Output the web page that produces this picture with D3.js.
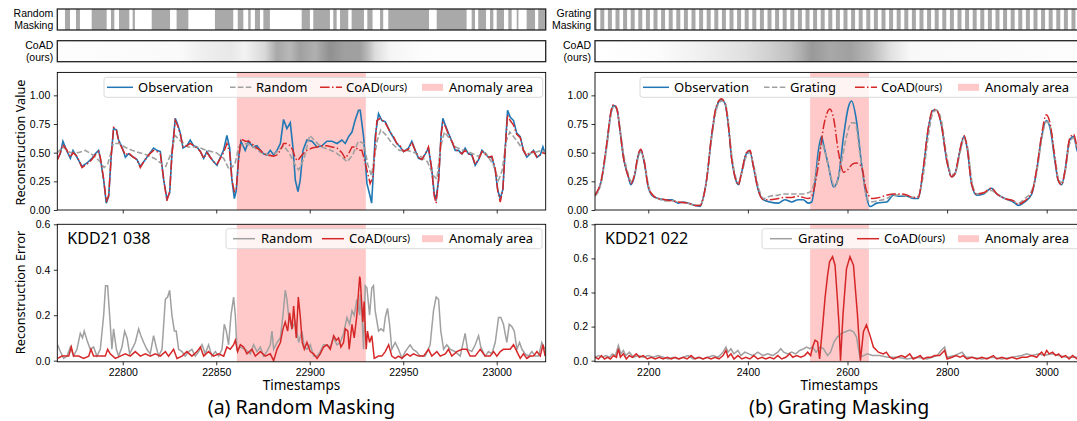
<!DOCTYPE html>
<html>
<head>
<meta charset="utf-8">
<script src="https://cdn.jsdelivr.net/npm/d3@7"></script>
<style>
  body { margin: 0; background: #fff; }
  svg { display: block; font-family: "Noto Sans", "Open Sans", sans-serif; }
</style>
</head>
<body>
<svg id="chart" width="1077" height="421"></svg>
<script>
// ---- data ----

// (a) KDD21 038, random masking
const randDomain = [22765, 23026.2];
const randTicks = [22800, 22850, 22900, 22950, 23000];
const randAnomaly = [22861, 22930];

// masked spans of the random mask
const randMask = [[22769.1, 22771.8], [22775.0, 22777.1], [22783.4, 22791.4], [22793.7, 22795.5],
  [22798.0, 22803.5], [22805.3, 22806.5], [22815.5, 22825.3], [22828.8, 22835.1], [22849.3, 22859.1],
  [22861.5, 22864.5], [22867.1, 22868.4], [22870.7, 22873.4], [22875.2, 22878.7], [22895.7, 22900.1],
  [22901.9, 22910.8], [22912.6, 22914.4], [22916.2, 22920.6], [22922.4, 22929.0], [22930.8, 22933.6],
  [22937.6, 22939.3], [22942.0, 22963.8], [22967.9, 22983.9], [22986.6, 22988.4], [22990.1, 22994.3],
  [22996.4, 22998.2], [23000.0, 23003.9], [23006.2, 23008.0], [23010.7, 23011.6], [23016.0, 23020.5],
  [23022.2, 23025.8]];

// CoAD attention shading (timestamp, grey level)
const randCoadShade = [[22765, 253], [22830.6, 250], [22841.3, 240], [22857.4, 232], [22865.4, 242],
  [22876.1, 216], [22882.5, 168], [22889.4, 184], [22894.8, 160], [22902.8, 176], [22910.8, 144],
  [22918.9, 160], [22926.9, 160], [22931.2, 188], [22934.9, 220], [22942.9, 245], [22959.0, 252], [23026.2, 253]];

const randObs = [[22765.2, 0.45], [22766.6, 0.49], [22768.0, 0.60], [22770.2, 0.51], [22772.0, 0.45],
  [22773.4, 0.52], [22775.5, 0.46], [22778.2, 0.38], [22780.9, 0.41], [22783.5, 0.45], [22785.3, 0.49],
  [22787.1, 0.52], [22788.0, 0.45], [22789.8, 0.26], [22791.2, 0.06], [22792.5, 0.12], [22793.9, 0.49],
  [22795.1, 0.71], [22796.6, 0.70], [22797.8, 0.61], [22799.6, 0.55], [22801.4, 0.46], [22803.1, 0.49],
  [22804.9, 0.47], [22807.6, 0.44], [22809.4, 0.38], [22811.2, 0.42], [22813.8, 0.48], [22816.5, 0.54],
  [22818.3, 0.52], [22820.1, 0.51], [22821.9, 0.26], [22823.6, 0.10], [22825.1, 0.15], [22826.3, 0.49],
  [22828.1, 0.80], [22829.5, 0.74], [22830.8, 0.67], [22832.2, 0.54], [22834.3, 0.56], [22836.1, 0.61],
  [22837.9, 0.56], [22839.7, 0.55], [22841.5, 0.51], [22843.3, 0.45], [22845.0, 0.51], [22846.8, 0.46],
  [22848.6, 0.42], [22850.4, 0.39], [22852.2, 0.46], [22853.9, 0.52], [22855.7, 0.65], [22857.2, 0.54],
  [22858.4, 0.26], [22859.7, 0.10], [22860.7, 0.17], [22862.0, 0.46], [22863.2, 0.60], [22865.5, 0.52],
  [22867.3, 0.60], [22869.6, 0.55], [22871.8, 0.56], [22873.6, 0.52], [22875.3, 0.49], [22877.1, 0.48],
  [22878.9, 0.52], [22880.7, 0.48], [22882.5, 0.52], [22884.3, 0.58], [22886.0, 0.79], [22887.8, 0.71],
  [22889.6, 0.76], [22891.0, 0.55], [22892.3, 0.26], [22893.7, 0.16], [22894.9, 0.26], [22896.4, 0.52],
  [22898.5, 0.61], [22901.2, 0.60], [22903.9, 0.55], [22906.5, 0.56], [22909.2, 0.60], [22911.9, 0.60],
  [22914.6, 0.58], [22917.2, 0.61], [22919.0, 0.58], [22920.8, 0.64], [22922.6, 0.68], [22924.4, 0.79],
  [22926.1, 0.87], [22927.0, 0.87], [22928.8, 0.64], [22930.6, 0.23], [22932.3, 0.12], [22933.1, 0.06],
  [22933.8, 0.26], [22935.0, 0.64], [22936.8, 0.84], [22938.6, 0.78], [22940.4, 0.77], [22943.0, 0.68],
  [22944.8, 0.63], [22946.6, 0.58], [22948.4, 0.55], [22950.2, 0.51], [22952.8, 0.54], [22954.6, 0.60],
  [22956.4, 0.52], [22958.2, 0.45], [22960.0, 0.44], [22961.8, 0.49], [22963.5, 0.54], [22965.3, 0.35],
  [22966.6, 0.14], [22967.6, 0.10], [22968.9, 0.26], [22970.3, 0.67], [22971.2, 0.80], [22972.5, 0.74],
  [22974.2, 0.67], [22976.0, 0.60], [22977.8, 0.52], [22979.6, 0.52], [22981.4, 0.49], [22983.1, 0.54],
  [22984.9, 0.49], [22986.7, 0.48], [22988.5, 0.39], [22990.3, 0.44], [22992.1, 0.52], [22993.8, 0.49],
  [22995.6, 0.46], [22997.4, 0.46], [22999.2, 0.35], [23000.6, 0.17], [23001.9, 0.10], [23003.3, 0.18],
  [23004.5, 0.52], [23005.8, 0.87], [23007.2, 0.81], [23009.0, 0.78], [23010.7, 0.67], [23012.6, 0.64],
  [23014.3, 0.52], [23016.1, 0.46], [23017.9, 0.49], [23019.7, 0.52], [23021.5, 0.46], [23023.3, 0.48],
  [23024.7, 0.55], [23025.9, 0.49]];

const randRecon = [[22765, 0.50], [22768, 0.55], [22772, 0.50], [22776, 0.50], [22780, 0.52], [22784, 0.48],
  [22788, 0.42], [22790, 0.37], [22792, 0.40], [22795, 0.58], [22798, 0.58], [22801, 0.55], [22805, 0.52],
  [22809, 0.50], [22813, 0.48], [22817, 0.45], [22821, 0.40], [22823, 0.38], [22826, 0.50], [22828, 0.65],
  [22831, 0.60], [22835, 0.55], [22840, 0.55], [22845, 0.52], [22850, 0.50], [22854, 0.45], [22857, 0.35],
  [22860, 0.40], [22862, 0.55], [22866, 0.58], [22870, 0.55], [22874, 0.50], [22878, 0.48], [22882, 0.50],
  [22886, 0.56], [22889, 0.50], [22892, 0.40], [22894, 0.35], [22897, 0.45], [22900, 0.65], [22903, 0.60],
  [22906, 0.55], [22910, 0.53], [22914, 0.50], [22918, 0.45], [22920, 0.42], [22923, 0.48], [22926, 0.60],
  [22929, 0.58], [22931, 0.40], [22933, 0.30], [22936, 0.60], [22938, 0.70], [22941, 0.65], [22944, 0.58],
  [22948, 0.52], [22952, 0.52], [22956, 0.50], [22960, 0.46], [22963, 0.42], [22966, 0.30], [22968, 0.27],
  [22970, 0.55], [22972, 0.68], [22975, 0.62], [22978, 0.55], [22982, 0.52], [22986, 0.50], [22990, 0.47],
  [22994, 0.50], [22998, 0.40], [23001, 0.26], [23003, 0.35], [23005, 0.60], [23007, 0.68], [23010, 0.62],
  [23013, 0.55], [23016, 0.49], [23020, 0.50], [23024, 0.52], [23026, 0.50]];

const randCoad = [[22765.2, 0.44], [22766.6, 0.50], [22768.0, 0.57], [22770.2, 0.52], [22772.0, 0.46],
  [22773.4, 0.50], [22775.5, 0.47], [22778.2, 0.37], [22780.9, 0.40], [22783.5, 0.44], [22785.3, 0.48],
  [22787.1, 0.51], [22788.0, 0.46], [22789.8, 0.27], [22791.2, 0.07], [22792.5, 0.13], [22793.9, 0.48],
  [22795.1, 0.72], [22796.6, 0.70], [22797.8, 0.60], [22799.6, 0.54], [22801.4, 0.48], [22803.1, 0.50],
  [22804.9, 0.47], [22807.6, 0.44], [22809.4, 0.37], [22811.2, 0.42], [22813.8, 0.48], [22816.5, 0.52],
  [22818.3, 0.51], [22820.1, 0.49], [22821.9, 0.27], [22823.6, 0.08], [22825.1, 0.16], [22826.3, 0.48],
  [22828.1, 0.78], [22829.5, 0.73], [22830.8, 0.66], [22832.2, 0.55], [22834.3, 0.56], [22836.1, 0.58],
  [22837.9, 0.56], [22839.7, 0.54], [22841.5, 0.51], [22843.3, 0.45], [22845.0, 0.50], [22846.8, 0.46],
  [22848.6, 0.42], [22850.4, 0.40], [22852.2, 0.45], [22853.9, 0.50], [22855.7, 0.58], [22857.2, 0.50],
  [22858.4, 0.26], [22859.7, 0.16], [22860.7, 0.18], [22862.0, 0.45], [22863.2, 0.62], [22865.5, 0.60],
  [22867.3, 0.60], [22869.6, 0.57], [22871.8, 0.54], [22873.6, 0.52], [22875.3, 0.49], [22877.1, 0.48],
  [22880.7, 0.47], [22882.5, 0.48], [22884.3, 0.52], [22886.0, 0.58], [22887.8, 0.58], [22889.6, 0.56],
  [22891.0, 0.52], [22892.3, 0.45], [22893.7, 0.43], [22894.9, 0.46], [22896.4, 0.49], [22898.5, 0.52],
  [22901.2, 0.54], [22903.9, 0.55], [22906.5, 0.56], [22909.2, 0.56], [22911.9, 0.55], [22914.6, 0.54],
  [22917.2, 0.50], [22919.0, 0.45], [22920.8, 0.49], [22922.6, 0.55], [22924.4, 0.55], [22926.1, 0.52],
  [22927.9, 0.52], [22929.7, 0.41], [22932.3, 0.23], [22933.8, 0.29], [22935.9, 0.78], [22937.7, 0.80],
  [22940.4, 0.76], [22943.0, 0.68], [22944.8, 0.64], [22946.6, 0.58], [22948.4, 0.56], [22950.2, 0.51],
  [22952.8, 0.53], [22954.6, 0.59], [22956.4, 0.52], [22958.2, 0.46], [22960.0, 0.44], [22961.8, 0.49],
  [22963.5, 0.55], [22965.3, 0.35], [22966.6, 0.12], [22967.6, 0.06], [22968.9, 0.26], [22970.3, 0.66],
  [22971.2, 0.76], [22972.5, 0.73], [22974.2, 0.66], [22976.0, 0.60], [22977.8, 0.53], [22979.6, 0.51],
  [22981.4, 0.49], [22983.1, 0.52], [22984.9, 0.49], [22986.7, 0.48], [22988.5, 0.40], [22990.3, 0.44],
  [22992.1, 0.51], [22993.8, 0.49], [22995.6, 0.46], [22997.4, 0.47], [22999.2, 0.36], [23000.6, 0.16],
  [23001.9, 0.07], [23003.3, 0.18], [23004.5, 0.52], [23005.8, 0.83], [23007.2, 0.78], [23009.0, 0.74],
  [23010.7, 0.66], [23012.6, 0.63], [23014.3, 0.52], [23016.1, 0.47], [23017.9, 0.50], [23019.7, 0.51],
  [23021.5, 0.46], [23023.3, 0.48], [23024.7, 0.50], [23025.9, 0.49]];

const randErrBase = [[22765.2, 0.07], [22766.6, 0.04], [22768.4, 0.01], [22770.2, 0.02], [22772.0, 0.06],
  [22773.7, 0.02], [22775.5, 0.05], [22777.3, 0.12], [22778.5, 0.10], [22779.4, 0.13], [22780.9, 0.09],
  [22782.6, 0.05], [22784.4, 0.06], [22786.2, 0.02], [22788.0, 0.05], [22789.8, 0.20], [22790.8, 0.33],
  [22791.9, 0.33], [22793.0, 0.20], [22794.2, 0.05], [22795.1, 0.14], [22796.6, 0.05], [22797.8, 0.02],
  [22799.6, 0.06], [22801.0, 0.13], [22802.3, 0.10], [22803.7, 0.03], [22804.9, 0.05], [22806.7, 0.08],
  [22808.5, 0.14], [22809.7, 0.11], [22811.2, 0.08], [22812.9, 0.05], [22814.7, 0.03], [22816.5, 0.11],
  [22817.9, 0.06], [22819.2, 0.02], [22821.0, 0.05], [22822.8, 0.27], [22824.0, 0.28], [22825.1, 0.31],
  [22826.3, 0.20], [22827.6, 0.13], [22828.6, 0.13], [22829.9, 0.05], [22831.7, 0.04], [22833.4, 0.02],
  [22835.2, 0.04], [22837.0, 0.05], [22838.8, 0.02], [22840.6, 0.04], [22842.4, 0.07], [22844.1, 0.03],
  [22845.9, 0.07], [22847.7, 0.02], [22849.5, 0.04], [22851.3, 0.02], [22853.1, 0.05], [22854.3, 0.16],
  [22855.4, 0.13], [22856.6, 0.07], [22857.9, 0.20], [22859.3, 0.28], [22860.2, 0.20], [22861.1, 0.05],
  [22862.9, 0.06], [22865.5, 0.05], [22868.2, 0.03], [22870.0, 0.07], [22871.8, 0.04], [22873.6, 0.06],
  [22875.3, 0.02], [22877.1, 0.04], [22878.9, 0.07], [22879.8, 0.13], [22880.7, 0.05], [22882.5, 0.08],
  [22884.3, 0.10], [22885.7, 0.20], [22886.9, 0.31], [22887.8, 0.27], [22888.7, 0.20], [22890.5, 0.14],
  [22892.3, 0.17], [22894.1, 0.08], [22895.8, 0.13], [22897.1, 0.06], [22898.5, 0.05], [22900.3, 0.07],
  [22902.1, 0.02], [22903.9, 0.02], [22905.6, 0.04], [22907.4, 0.07], [22909.2, 0.07], [22911.0, 0.06],
  [22912.8, 0.10], [22914.6, 0.07], [22916.3, 0.08], [22918.1, 0.12], [22919.9, 0.19], [22921.3, 0.16],
  [22922.6, 0.22], [22923.8, 0.20], [22925.2, 0.27], [22926.7, 0.20], [22927.0, 0.29], [22927.9, 0.20],
  [22928.8, 0.05], [22929.7, 0.33], [22930.6, 0.32], [22932.0, 0.20], [22933.2, 0.32], [22934.1, 0.33],
  [22935.0, 0.22], [22936.8, 0.13], [22938.1, 0.14], [22939.5, 0.13], [22940.4, 0.19], [22941.6, 0.23],
  [22942.7, 0.16], [22943.9, 0.05], [22945.7, 0.08], [22947.5, 0.05], [22949.3, 0.01], [22951.1, 0.04],
  [22953.7, 0.07], [22955.2, 0.05], [22957.0, 0.04], [22959.1, 0.02], [22961.8, 0.02], [22964.4, 0.07],
  [22966.2, 0.22], [22967.6, 0.28], [22968.9, 0.27], [22970.1, 0.13], [22971.6, 0.05], [22973.3, 0.07],
  [22975.1, 0.05], [22977.8, 0.04], [22980.5, 0.02], [22983.1, 0.12], [22984.4, 0.05], [22986.7, 0.04],
  [22988.5, 0.07], [22990.3, 0.11], [22991.5, 0.06], [22993.8, 0.02], [22995.6, 0.04], [22997.4, 0.03],
  [22999.2, 0.08], [23001.0, 0.19], [23002.2, 0.19], [23003.6, 0.16], [23005.4, 0.08], [23006.7, 0.16],
  [23008.1, 0.15], [23009.4, 0.13], [23010.8, 0.05], [23012.2, 0.08], [23013.5, 0.05], [23015.2, 0.03],
  [23017.0, 0.02], [23018.8, 0.04], [23020.6, 0.02], [23022.4, 0.02], [23024.1, 0.08], [23025.9, 0.05]];

const randErrCoad = [[22765.2, 0.01], [22767.5, 0.02], [22769.3, 0.02], [22771.1, 0.02], [22772.5, 0.06],
  [22773.7, 0.02], [22776.4, 0.02], [22779.1, 0.01], [22781.8, 0.02], [22783.0, 0.05], [22784.4, 0.02],
  [22788.0, 0.02], [22790.7, 0.02], [22791.9, 0.05], [22793.3, 0.03], [22796.0, 0.01], [22798.7, 0.02],
  [22801.4, 0.03], [22804.0, 0.02], [22806.7, 0.04], [22809.4, 0.02], [22812.1, 0.03], [22814.7, 0.02],
  [22817.4, 0.03], [22820.1, 0.02], [22822.8, 0.04], [22824.5, 0.02], [22827.2, 0.05], [22829.0, 0.01],
  [22831.7, 0.02], [22834.3, 0.04], [22837.0, 0.02], [22839.7, 0.04], [22841.5, 0.06], [22843.3, 0.02],
  [22845.9, 0.04], [22848.6, 0.02], [22851.3, 0.03], [22854.0, 0.02], [22855.7, 0.06], [22857.5, 0.05],
  [22859.3, 0.07], [22860.2, 0.09], [22861.4, 0.04], [22862.9, 0.07], [22864.6, 0.06], [22866.4, 0.03],
  [22869.1, 0.05], [22870.9, 0.02], [22873.6, 0.04], [22876.2, 0.02], [22878.9, 0.03], [22880.7, 0.00],
  [22882.5, 0.05], [22884.3, 0.08], [22885.7, 0.14], [22886.9, 0.17], [22888.2, 0.13], [22889.2, 0.21],
  [22890.5, 0.14], [22891.4, 0.24], [22892.8, 0.10], [22893.9, 0.28], [22894.9, 0.20], [22896.0, 0.08],
  [22897.1, 0.05], [22898.5, 0.08], [22900.3, 0.04], [22902.1, 0.03], [22903.9, 0.01], [22905.6, 0.03],
  [22907.4, 0.06], [22909.2, 0.07], [22911.0, 0.05], [22912.8, 0.11], [22914.2, 0.09], [22915.4, 0.10],
  [22916.7, 0.06], [22918.1, 0.08], [22919.0, 0.14], [22920.4, 0.13], [22921.1, 0.05], [22922.6, 0.16],
  [22923.8, 0.10], [22925.2, 0.20], [22926.7, 0.37], [22927.0, 0.36], [22928.4, 0.17], [22929.1, 0.26],
  [22930.2, 0.05], [22930.9, 0.13], [22932.0, 0.08], [22933.2, 0.11], [22934.5, 0.01], [22936.8, 0.02],
  [22938.6, 0.02], [22940.4, 0.04], [22942.2, 0.07], [22943.9, 0.02], [22945.7, 0.01], [22947.5, 0.02],
  [22949.3, 0.01], [22952.0, 0.03], [22953.7, 0.02], [22955.5, 0.03], [22958.2, 0.02], [22960.9, 0.02],
  [22963.5, 0.05], [22965.3, 0.02], [22968.0, 0.04], [22969.8, 0.02], [22972.5, 0.03], [22974.2, 0.05],
  [22976.0, 0.02], [22978.7, 0.04], [22981.4, 0.05], [22984.0, 0.05], [22985.8, 0.02], [22988.5, 0.02],
  [22991.2, 0.05], [22993.8, 0.02], [22996.5, 0.02], [22998.3, 0.04], [23000.1, 0.02], [23001.9, 0.04],
  [23003.6, 0.05], [23005.4, 0.05], [23007.2, 0.05], [23009.0, 0.07], [23010.8, 0.04], [23012.6, 0.01],
  [23014.3, 0.03], [23016.1, 0.01], [23017.9, 0.02], [23019.7, 0.02], [23021.5, 0.04], [23023.3, 0.02],
  [23024.7, 0.07], [23025.9, 0.02]];

// (b) KDD21 022, grating masking
const gratDomain = [2093, 3073.7];
const gratTicks = [2200, 2400, 2600, 2800, 3000];
const gratAnomaly = [2525, 2643];
const gratingStart = 2088.4, gratingPeriod = 15.26, gratingWidth = 8.0;

const gratCoadShade = [[2093, 255], [2223.5, 251], [2303.8, 240], [2394.2, 224], [2444.4, 208],
  [2484.6, 192], [2504.6, 176], [2528.7, 153], [2564.9, 168], [2605.0, 160], [2645.2, 184],
  [2685.4, 224], [2725.5, 248], [3073.7, 253]];

const gratObs = [[2093, 0.13], [2106, 0.26], [2116, 0.55], [2126, 0.87], [2131, 0.91], [2137, 0.88],
  [2143, 0.70], [2150, 0.46], [2160, 0.29], [2165, 0.22], [2172, 0.29], [2180, 0.48], [2185, 0.52],
  [2192, 0.41], [2200, 0.20], [2207, 0.13], [2220, 0.10], [2234, 0.09], [2247, 0.09], [2255, 0.07],
  [2260, 0.06], [2270, 0.07], [2280, 0.06], [2294, 0.04], [2304, 0.03], [2310, 0.10], [2317, 0.26],
  [2327, 0.64], [2337, 0.90], [2347, 0.96], [2354, 0.93], [2361, 0.73], [2367, 0.46], [2374, 0.29],
  [2381, 0.22], [2387, 0.32], [2397, 0.49], [2404, 0.51], [2411, 0.38], [2421, 0.17], [2431, 0.09],
  [2444, 0.07], [2461, 0.06], [2474, 0.09], [2488, 0.07], [2501, 0.09], [2511, 0.09], [2521, 0.06],
  [2528, 0.07], [2535, 0.25], [2541, 0.50], [2548, 0.64], [2552, 0.57], [2562, 0.38], [2572, 0.20],
  [2582, 0.29], [2592, 0.64], [2602, 0.90], [2608, 0.95], [2618, 0.78], [2628, 0.41], [2638, 0.12],
  [2645, 0.03], [2659, 0.06], [2679, 0.07], [2692, 0.13], [2705, 0.12], [2719, 0.12], [2732, 0.10],
  [2742, 0.10], [2752, 0.35], [2762, 0.70], [2772, 0.87], [2779, 0.87], [2789, 0.73], [2799, 0.44],
  [2809, 0.29], [2816, 0.32], [2826, 0.52], [2834, 0.64], [2841, 0.52], [2849, 0.23], [2859, 0.13],
  [2873, 0.14], [2889, 0.19], [2900, 0.14], [2916, 0.10], [2933, 0.07], [2943, 0.04], [2956, 0.07],
  [2970, 0.14], [2980, 0.35], [2990, 0.64], [2999, 0.78], [3007, 0.71], [3017, 0.41], [3023, 0.26],
  [3030, 0.22], [3037, 0.35], [3046, 0.61], [3054, 0.64], [3061, 0.52], [3073, 0.40]];

const gratRecon = [[2093, 0.12], [2106, 0.25], [2116, 0.53], [2126, 0.85], [2131, 0.90], [2137, 0.88],
  [2143, 0.72], [2150, 0.50], [2160, 0.31], [2165, 0.25], [2172, 0.30], [2180, 0.46], [2185, 0.51],
  [2192, 0.43], [2200, 0.22], [2207, 0.14], [2220, 0.10], [2234, 0.08], [2247, 0.08], [2260, 0.07],
  [2280, 0.06], [2294, 0.04], [2304, 0.04], [2310, 0.10], [2317, 0.26], [2327, 0.62], [2337, 0.88],
  [2347, 0.95], [2354, 0.94], [2361, 0.76], [2367, 0.50], [2374, 0.31], [2381, 0.24], [2387, 0.31],
  [2397, 0.47], [2404, 0.50], [2411, 0.40], [2421, 0.20], [2431, 0.10], [2444, 0.12], [2461, 0.13],
  [2474, 0.14], [2488, 0.14], [2501, 0.14], [2511, 0.14], [2521, 0.15], [2528, 0.17], [2538, 0.35],
  [2548, 0.58], [2558, 0.45], [2566, 0.30], [2575, 0.20], [2585, 0.35], [2598, 0.64], [2608, 0.76],
  [2615, 0.76], [2625, 0.49], [2638, 0.12], [2645, 0.07], [2660, 0.08], [2679, 0.10], [2692, 0.13],
  [2705, 0.13], [2719, 0.12], [2732, 0.11], [2742, 0.12], [2752, 0.30], [2762, 0.64], [2772, 0.85],
  [2779, 0.87], [2789, 0.77], [2799, 0.48], [2809, 0.31], [2816, 0.32], [2826, 0.50], [2834, 0.62],
  [2841, 0.55], [2849, 0.27], [2859, 0.14], [2873, 0.15], [2889, 0.17], [2900, 0.14], [2916, 0.10],
  [2933, 0.08], [2943, 0.06], [2956, 0.10], [2970, 0.17], [2980, 0.33], [2990, 0.62], [2999, 0.77],
  [3007, 0.73], [3017, 0.45], [3023, 0.28], [3030, 0.24], [3037, 0.33], [3046, 0.58], [3054, 0.63],
  [3061, 0.54], [3073, 0.42]];

const gratCoad = [[2093, 0.13], [2106, 0.27], [2116, 0.56], [2126, 0.88], [2131, 0.92], [2137, 0.88],
  [2143, 0.70], [2150, 0.46], [2160, 0.29], [2165, 0.23], [2172, 0.30], [2180, 0.49], [2185, 0.53],
  [2192, 0.42], [2200, 0.20], [2207, 0.14], [2220, 0.10], [2234, 0.09], [2247, 0.08], [2260, 0.07],
  [2280, 0.06], [2294, 0.04], [2304, 0.04], [2310, 0.10], [2317, 0.26], [2327, 0.65], [2337, 0.91],
  [2347, 0.97], [2354, 0.93], [2361, 0.73], [2367, 0.46], [2374, 0.29], [2381, 0.22], [2387, 0.32],
  [2397, 0.50], [2404, 0.52], [2411, 0.38], [2421, 0.17], [2431, 0.09], [2444, 0.09], [2461, 0.10],
  [2474, 0.11], [2488, 0.11], [2501, 0.12], [2511, 0.11], [2521, 0.10], [2528, 0.12], [2540, 0.35],
  [2553, 0.75], [2565, 0.88], [2572, 0.80], [2582, 0.50], [2592, 0.33], [2600, 0.35], [2610, 0.40],
  [2618, 0.41], [2628, 0.38], [2638, 0.17], [2650, 0.10], [2665, 0.11], [2679, 0.13], [2692, 0.14],
  [2705, 0.14], [2719, 0.13], [2732, 0.11], [2742, 0.11], [2752, 0.36], [2762, 0.71], [2772, 0.88],
  [2779, 0.87], [2789, 0.73], [2799, 0.44], [2809, 0.29], [2816, 0.32], [2826, 0.53], [2834, 0.65],
  [2841, 0.52], [2849, 0.23], [2859, 0.14], [2873, 0.15], [2889, 0.19], [2900, 0.14], [2916, 0.10],
  [2933, 0.08], [2943, 0.05], [2956, 0.08], [2970, 0.15], [2980, 0.36], [2990, 0.66], [2999, 0.83],
  [3007, 0.75], [3017, 0.43], [3023, 0.26], [3030, 0.22], [3037, 0.35], [3046, 0.62], [3054, 0.66],
  [3061, 0.55], [3073, 0.42]];

const gratErrBase = [[2093, 0.02], [2100, 0.03], [2108, 0.02], [2115, 0.03], [2122, 0.02], [2128, 0.04],
  [2134, 0.03], [2140, 0.09], [2145, 0.04], [2150, 0.06], [2155, 0.03], [2162, 0.05], [2170, 0.02],
  [2180, 0.03], [2190, 0.02], [2200, 0.03], [2210, 0.02], [2220, 0.03], [2230, 0.02], [2240, 0.01],
  [2250, 0.02], [2260, 0.01], [2270, 0.02], [2280, 0.03], [2290, 0.01], [2300, 0.02], [2310, 0.01],
  [2320, 0.02], [2330, 0.03], [2340, 0.02], [2350, 0.05], [2356, 0.08], [2360, 0.05], [2366, 0.07],
  [2372, 0.04], [2380, 0.06], [2386, 0.03], [2394, 0.05], [2402, 0.04], [2410, 0.03], [2420, 0.05],
  [2430, 0.03], [2440, 0.04], [2450, 0.03], [2460, 0.05], [2466, 0.07], [2472, 0.05], [2480, 0.04],
  [2488, 0.05], [2496, 0.04], [2504, 0.06], [2512, 0.07], [2518, 0.08], [2524, 0.07], [2530, 0.08],
  [2537, 0.05], [2545, 0.08], [2552, 0.07], [2560, 0.03], [2566, 0.05], [2573, 0.11], [2580, 0.14],
  [2588, 0.16], [2596, 0.17], [2605, 0.18], [2612, 0.17], [2618, 0.14], [2625, 0.02], [2632, 0.03],
  [2640, 0.04], [2650, 0.03], [2665, 0.03], [2680, 0.02], [2700, 0.02], [2720, 0.01], [2740, 0.02],
  [2760, 0.01], [2780, 0.03], [2788, 0.06], [2795, 0.08], [2800, 0.02], [2815, 0.03], [2830, 0.05],
  [2838, 0.02], [2850, 0.02], [2870, 0.01], [2890, 0.02], [2910, 0.01], [2930, 0.02], [2950, 0.03],
  [2960, 0.04], [2970, 0.03], [2985, 0.04], [2995, 0.03], [3010, 0.04], [3025, 0.03], [3040, 0.02],
  [3061, 0.02], [3073, 0.02]];

const gratErrCoad = [[2093, 0.02], [2100, 0.01], [2106, 0.03], [2112, 0.01], [2118, 0.02], [2124, 0.01],
  [2130, 0.03], [2136, 0.02], [2140, 0.07], [2144, 0.02], [2150, 0.04], [2156, 0.01], [2162, 0.03],
  [2168, 0.02], [2176, 0.04], [2182, 0.02], [2190, 0.03], [2198, 0.01], [2206, 0.02], [2214, 0.01],
  [2222, 0.02], [2230, 0.01], [2238, 0.02], [2246, 0.01], [2254, 0.02], [2262, 0.01], [2270, 0.02],
  [2278, 0.01], [2286, 0.03], [2294, 0.01], [2302, 0.02], [2310, 0.01], [2318, 0.02], [2326, 0.01],
  [2334, 0.02], [2342, 0.01], [2350, 0.03], [2356, 0.06], [2360, 0.02], [2366, 0.04], [2372, 0.01],
  [2380, 0.03], [2388, 0.01], [2396, 0.02], [2404, 0.01], [2412, 0.03], [2420, 0.01], [2428, 0.02],
  [2436, 0.01], [2444, 0.02], [2452, 0.01], [2460, 0.03], [2468, 0.01], [2476, 0.02], [2484, 0.04],
  [2490, 0.02], [2498, 0.03], [2506, 0.02], [2514, 0.03], [2520, 0.05], [2526, 0.03], [2530, 0.08],
  [2535, 0.12], [2540, 0.11], [2544, 0.01], [2550, 0.20], [2555, 0.37], [2560, 0.50], [2564, 0.58],
  [2570, 0.61], [2575, 0.56], [2580, 0.35], [2583, 0.21], [2586, 0.00], [2591, 0.27], [2598, 0.54],
  [2605, 0.61], [2612, 0.56], [2620, 0.27], [2626, 0.00], [2632, 0.17], [2638, 0.21], [2645, 0.15],
  [2652, 0.08], [2662, 0.05], [2672, 0.04], [2678, 0.05], [2685, 0.02], [2692, 0.01], [2700, 0.02],
  [2708, 0.03], [2716, 0.02], [2725, 0.04], [2732, 0.01], [2740, 0.02], [2746, 0.03], [2752, 0.01],
  [2760, 0.02], [2768, 0.02], [2775, 0.03], [2785, 0.03], [2795, 0.06], [2800, 0.01], [2810, 0.02],
  [2818, 0.03], [2826, 0.02], [2832, 0.03], [2840, 0.01], [2850, 0.02], [2860, 0.01], [2870, 0.02],
  [2880, 0.01], [2893, 0.03], [2900, 0.01], [2910, 0.02], [2920, 0.01], [2930, 0.02], [2940, 0.01],
  [2950, 0.02], [2960, 0.02], [2970, 0.03], [2980, 0.02], [2986, 0.04], [2990, 0.05], [2995, 0.03],
  [3000, 0.06], [3005, 0.04], [3012, 0.05], [3018, 0.03], [3024, 0.04], [3030, 0.02], [3038, 0.03],
  [3045, 0.01], [3052, 0.03], [3061, 0.01], [3073, 0.02]];

const valueTicks = [0, 0.25, 0.5, 0.75, 1.0];

// ---- drawing ----
const BLUE = "#1f77b4", RED = "#d62728", GREY = "#a0a0a0", SPAN = "#ffc9c9", MASK = "#a9a9a9";
const svg = d3.select("#chart");
const defs = svg.append("defs");

function styleAxis(g) {
  g.select(".domain").remove();
  g.selectAll(".tick line").attr("stroke", "#000").attr("stroke-width", 0.8);
  g.selectAll(".tick text").attr("fill", "#000").style("font-size", "10.5px");
}

function drawLegend(g, box, items, cy) {
  g.append("rect")
    .attr("x", box[0]).attr("y", cy - 10).attr("width", box[1] - box[0]).attr("height", 20)
    .attr("rx", 2.5).attr("fill", "#fff").attr("fill-opacity", 0.8)
    .attr("stroke", "#d0d0d0").attr("stroke-width", 0.8);
  items.forEach(it => {
    if (it.kind === "patch") {
      g.append("rect").attr("x", it.x0).attr("y", cy - 3.5).attr("width", it.x1 - it.x0).attr("height", 7)
        .attr("fill", SPAN);
    } else {
      g.append("line").attr("x1", it.x0).attr("x2", it.x1).attr("y1", cy).attr("y2", cy)
        .attr("stroke", it.color).attr("stroke-width", 1.5)
        .attr("stroke-dasharray", it.dash || null);
    }
    const t = g.append("text").attr("x", it.tx).attr("y", cy + 4.6)
      .style("font-size", "13px").attr("fill", "#000").text(it.label);
    if (it.sup) t.append("tspan").attr("dy", -1).style("font-size", "10px").text(it.sup);
  });
}

// right-aligned label line next to the strips (compact font keeps the two lines apart)
function stripLabel(g, xRight, s, y) {
  g.append("text").attr("x", xRight).attr("y", y).attr("text-anchor", "end")
    .style("font-family", "'Liberation Sans', Arial, sans-serif")
    .style("font-size", "10.5px").attr("fill", "#000").text(s);
}

function drawPanel(p) {
  const x = d3.scaleLinear().domain(p.domain).range([p.left, p.right]);
  const yVal = d3.scaleLinear().domain([0, 1.2]).range([210, 72.4]);
  const yErr = d3.scaleLinear().domain(p.errDomain).range([361.8, 224.3]);
  const w = p.right - p.left;
  const g = svg.append("g");

  // clip paths
  const clipId = (n) => p.id + "-" + n;
  [["mask", 9, 30], ["shade", 40.7, 61.7], ["top", 72.4, 210], ["bot", 224.3, 361.8]].forEach(([n, y0, y1]) => {
    defs.append("clipPath").attr("id", clipId(n))
      .append("rect").attr("x", p.left).attr("y", y0).attr("width", w).attr("height", y1 - y0);
  });

  // mask strip
  g.append("g").attr("clip-path", `url(#${clipId("mask")})`)
    .selectAll("rect").data(p.mask).join("rect")
    .attr("x", d => x(d[0])).attr("width", d => x(d[1]) - x(d[0]))
    .attr("y", 9).attr("height", 21).attr("fill", MASK);
  g.append("rect").attr("x", p.left).attr("y", 9).attr("width", w).attr("height", 21)
    .attr("fill", "none").attr("stroke", "#222").attr("stroke-width", 1.3);

  // CoAD shading strip
  const grad = defs.append("linearGradient").attr("id", clipId("grad"))
    .attr("gradientUnits", "userSpaceOnUse")
    .attr("x1", p.left).attr("x2", p.right).attr("y1", 0).attr("y2", 0);
  grad.selectAll("stop").data(p.shade).join("stop")
    .attr("offset", d => (x(d[0]) - p.left) / w)
    .attr("stop-color", d => d3.rgb(d[1], d[1], d[1]));
  g.append("rect").attr("x", p.left).attr("y", 40.7).attr("width", w).attr("height", 21)
    .attr("fill", `url(#${clipId("grad")})`).attr("stroke", "#222").attr("stroke-width", 1.3);

  // strip labels
  stripLabel(g, p.left - 4, p.maskLabel, 16.8);
  stripLabel(g, p.left - 4, "Masking", 28.9);
  stripLabel(g, p.left - 4, "CoAD", 48.8);
  stripLabel(g, p.left - 4, "(ours)", 60.9);

  // ---- top: reconstruction values ----
  const top = g.append("g").attr("clip-path", `url(#${clipId("top")})`);
  top.append("rect").attr("x", x(p.anomaly[0])).attr("width", x(p.anomaly[1]) - x(p.anomaly[0]))
    .attr("y", 72.4).attr("height", 137.6).attr("fill", SPAN);
  const lineV = d3.line().x(d => x(d[0])).y(d => yVal(d[1])).curve(p.curve);
  top.append("path").attr("d", lineV(p.obs)).attr("fill", "none").attr("stroke", BLUE).attr("stroke-width", 1.6);
  top.append("path").attr("d", lineV(p.recon)).attr("fill", "none").attr("stroke", GREY)
    .attr("stroke-width", 1.6).attr("stroke-dasharray", "5.5,2.4");
  top.append("path").attr("d", lineV(p.coad)).attr("fill", "none").attr("stroke", RED)
    .attr("stroke-width", 1.5).attr("stroke-dasharray", "9.6,2.4,1.5,2.4");

  g.append("g").attr("transform", `translate(${p.left},0)`)
    .call(d3.axisLeft(yVal).tickValues(valueTicks).tickFormat(d3.format(".2f")).tickSize(3.5).tickPadding(3.5))
    .call(styleAxis);
  g.append("g").attr("transform", "translate(0,210)")
    .call(d3.axisBottom(x).tickValues(p.ticks).tickFormat("").tickSize(3.5))
    .call(styleAxis);
  g.append("rect").attr("x", p.left).attr("y", 72.4).attr("width", w).attr("height", 137.6)
    .attr("fill", "none").attr("stroke", "#000").attr("stroke-width", 0.9);

  drawLegend(g, p.legendTop, [
    { kind: "line", color: BLUE, x0: p.lx[0], x1: p.lx[0] + 26, tx: p.lx[0] + 31, label: "Observation" },
    { kind: "line", color: GREY, dash: "5.5,2.4", x0: p.lx[1], x1: p.lx[1] + 22, tx: p.lx[1] + 26, label: p.maskName },
    { kind: "line", color: RED, dash: "9.6,2.4,1.5,2.4", x0: p.lx[2], x1: p.lx[2] + 22, tx: p.lx[2] + 26, label: "CoAD", sup: "(ours)" },
    { kind: "patch", x0: p.lx[3], x1: p.lx[3] + 21, tx: p.lx[3] + 27, label: "Anomaly area" }
  ], 87.3);

  // ---- bottom: reconstruction errors ----
  const bot = g.append("g").attr("clip-path", `url(#${clipId("bot")})`);
  bot.append("rect").attr("x", x(p.anomaly[0])).attr("width", x(p.anomaly[1]) - x(p.anomaly[0]))
    .attr("y", 224.3).attr("height", 137.5).attr("fill", SPAN);
  const lineE = d3.line().x(d => x(d[0])).y(d => yErr(d[1]));
  bot.append("path").attr("d", lineE(p.errBase)).attr("fill", "none").attr("stroke", GREY).attr("stroke-width", 1.5);
  bot.append("path").attr("d", lineE(p.errCoad)).attr("fill", "none").attr("stroke", RED).attr("stroke-width", 1.5);

  g.append("g").attr("transform", `translate(${p.left},0)`)
    .call(d3.axisLeft(yErr).tickValues(p.errTicks).tickFormat(d3.format(".1f")).tickSize(3.5).tickPadding(3.5))
    .call(styleAxis);
  g.append("g").attr("transform", "translate(0,361.8)")
    .call(d3.axisBottom(x).tickValues(p.ticks).tickFormat(d3.format("d")).tickSize(3.5).tickPadding(3))
    .call(styleAxis);
  g.append("rect").attr("x", p.left).attr("y", 224.3).attr("width", w).attr("height", 137.5)
    .attr("fill", "none").attr("stroke", "#000").attr("stroke-width", 0.9);

  g.append("text").attr("x", p.left + 10).attr("y", 244.3).style("font-size", "16px").attr("fill", "#000").text(p.dataset);

  drawLegend(g, p.legendBot, [
    { kind: "line", color: GREY, x0: p.bx[0], x1: p.bx[0] + 22, tx: p.bx[0] + 28, label: p.maskName },
    { kind: "line", color: RED, x0: p.bx[1], x1: p.bx[1] + 22, tx: p.bx[1] + 27, label: "CoAD", sup: "(ours)" },
    { kind: "patch", x0: p.bx[2], x1: p.bx[2] + 21, tx: p.bx[2] + 27, label: "Anomaly area" }
  ], 238.7);

  // axis titles
  const cx = (p.left + p.right) / 2;
  g.append("text").attr("x", cx).attr("y", 390).attr("text-anchor", "middle")
    .style("font-size", "13.5px").attr("fill", "#000").text("Timestamps");
  g.append("text").attr("x", cx).attr("y", 414).attr("text-anchor", "middle")
    .style("font-size", "19.5px").attr("fill", "#000").text(p.title);
  if (p.yLabels) {
    g.append("text").attr("transform", "translate(24.5,142.5) rotate(-90)").attr("text-anchor", "middle")
      .style("font-size", "12.7px").attr("fill", "#000").text("Reconstruction Value");
    g.append("text").attr("transform", "translate(24.5,292.5) rotate(-90)").attr("text-anchor", "middle")
      .style("font-size", "12.7px").attr("fill", "#000").text("Reconstruction Error");
  }
}

drawPanel({
  id: "rand", left: 57.3, right: 545.7, domain: randDomain, ticks: randTicks, anomaly: randAnomaly,
  mask: randMask, shade: randCoadShade, maskLabel: "Random", maskName: "Random",
  obs: randObs, recon: randRecon, coad: randCoad, curve: d3.curveLinear,
  errBase: randErrBase, errCoad: randErrCoad, errDomain: [-0.005, 0.6], errTicks: [0, 0.2, 0.4, 0.6],
  dataset: "KDD21 038", title: "(a) Random Masking", yLabels: true,
  legendTop: [104, 542.7], lx: [107, 230, 320, 422],
  legendBot: [226, 542], bx: [233, 322, 422]
});

drawPanel({
  id: "grat", left: 595, right: 1083.4, domain: gratDomain, ticks: gratTicks, anomaly: gratAnomaly,
  mask: d3.range(gratingStart, gratDomain[1], gratingPeriod).map(s => [s, s + gratingWidth]),
  shade: gratCoadShade, maskLabel: "Grating", maskName: "Grating",
  obs: gratObs, recon: gratRecon, coad: gratCoad, curve: d3.curveMonotoneX,
  errBase: gratErrBase, errCoad: gratErrCoad, errDomain: [-0.0065, 0.8], errTicks: [0, 0.2, 0.4, 0.6, 0.8],
  dataset: "KDD21 022", title: "(b) Grating Masking", yLabels: false,
  legendTop: [640, 1090], lx: [643, 764, 855, 958],
  legendBot: [762, 1090], bx: [770, 857, 958]
});
</script>
</body>
</html>
